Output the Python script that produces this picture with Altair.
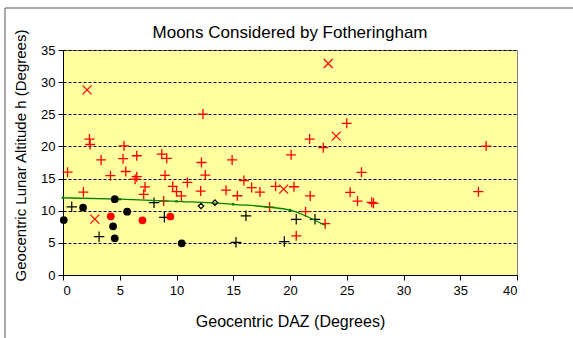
import altair as alt
import pandas as pd

# ---- data ----
red_plus_x = [0.4, 1.8, 2.33, 2.39, 3.36, 4.18, 5.29, 5.38, 5.53, 6.35, 6.5, 6.5, 7.11, 7.23,
              8.7, 8.87, 8.99, 9.14, 9.67, 10.0, 10.43, 10.96, 12.13, 12.2, 12.33, 12.54,
              14.36, 14.9, 15.36, 15.94, 16.62, 17.35, 18.2, 18.73, 20.1, 20.35, 20.55,
              21.37, 21.73, 21.78, 22.93, 23.1, 25.0, 25.3, 25.95, 26.3, 27.2, 27.36, 36.6, 37.28]
red_plus_y = [16.0, 12.9, 21.15, 20.3, 17.9, 15.45, 18.1, 20.1, 16.1, 14.9, 15.3, 18.55, 12.55, 13.7,
              18.8, 11.5, 15.5, 18.15, 13.8, 12.96, 12.3, 14.4, 13.06, 17.5, 25.04, 15.55,
              13.2, 17.9, 12.33, 14.7, 13.6, 12.9, 10.57, 13.8, 18.7, 13.73, 6.1,
              9.85, 21.15, 12.3, 19.8, 7.98, 23.6, 12.86, 11.5, 15.97, 11.3, 11.15, 12.96, 20.06]

red_x_x = [2.12, 2.8, 19.44, 23.37, 24.07]
red_x_y = [28.8, 8.7, 13.37, 32.9, 21.6]

black_plus_x = [0.77, 3.18, 8.02, 8.93, 15.24, 16.12, 19.5, 20.55, 22.2]
black_plus_y = [10.6, 5.96, 11.25, 8.97, 5.08, 9.2, 5.2, 8.66, 8.66]

black_dot_x = [0.07, 1.77, 4.56, 5.65, 4.41, 4.56, 10.46]
black_dot_y = [8.55, 10.5, 11.8, 9.85, 7.57, 5.7, 4.93]

red_dot_x = [4.21, 7.0, 9.46]
red_dot_y = [9.12, 8.5, 9.1]

diamond_x = [12.16, 13.39]
diamond_y = [10.73, 11.25]

trend_x = [0, 5, 10, 15, 20, 21.5, 23.1]
trend_y = [12.0, 11.8, 11.45, 11.0, 10.1, 9.1, 7.7]

x_ticks = [0, 5, 10, 15, 20, 25, 30, 35, 40]
y_ticks = [0, 5, 10, 15, 20, 25, 30, 35]

FONT = "Liberation Sans"
PLUS = "M-1,0L1,0M0,-1L0,1"
CROSS = "M-1,-1L1,1M-1,1L1,-1"


def frame(xs, ys):
    return pd.DataFrame({"daz": xs, "alt": ys})


x_enc = alt.X(
    "daz:Q",
    scale=alt.Scale(domain=[0, 40], nice=False, zero=False),
    axis=alt.Axis(
        values=x_ticks, title="Geocentric DAZ (Degrees)", grid=False,
        labelFontSize=13, titleFontSize=16, titlePadding=16, labelPadding=4,
        tickSize=5, tickColor="black", domainColor="black", labelColor="black",
        titleColor="black", titleFontWeight="normal", labelFont=FONT, titleFont=FONT,
    ),
)
y_enc = alt.Y(
    "alt:Q",
    scale=alt.Scale(domain=[0, 35], nice=False),
    axis=alt.Axis(
        values=y_ticks, title="Geocentric Lunar Altitude h (Degrees)", grid=True,
        gridColor="black", gridDash=[3, 2], gridWidth=1, gridOpacity=1,
        labelFontSize=13, titleFontSize=15, titlePadding=12, labelPadding=3,
        tickSize=5, tickColor="black", domainColor="black", labelColor="black",
        titleColor="black", titleFontWeight="normal", labelFont=FONT, titleFont=FONT,
        titleY=105,
    ),
)

base_layer = alt.Chart(frame(red_plus_x, red_plus_y)).mark_point(
    shape=PLUS, size=100, filled=False, stroke="#ff0000", strokeWidth=1.3, opacity=1
).encode(x=x_enc, y=y_enc)

red_x_layer = alt.Chart(frame(red_x_x, red_x_y)).mark_point(
    shape=CROSS, size=81, filled=False, stroke="#ff0000", strokeWidth=1.2, opacity=1
).encode(x=x_enc, y=y_enc)

black_plus_layer = alt.Chart(frame(black_plus_x, black_plus_y)).mark_point(
    shape=PLUS, size=110, filled=False, stroke="black", strokeWidth=1.2, opacity=1
).encode(x=x_enc, y=y_enc)

trend_line = alt.Chart(frame(trend_x, trend_y)).mark_line(
    color="#008000", strokeWidth=1.3, interpolate="monotone"
).encode(x=x_enc, y=y_enc)

trend_pts = alt.Chart(frame(trend_x[:5], trend_y[:5])).mark_point(
    shape="square", size=6, filled=True, color="#008000", opacity=1
).encode(x=x_enc, y=y_enc)

black_dot_layer = alt.Chart(frame(black_dot_x, black_dot_y)).mark_point(
    shape="circle", size=60, filled=True, color="black", opacity=1
).encode(x=x_enc, y=y_enc)

red_dot_layer = alt.Chart(frame(red_dot_x, red_dot_y)).mark_point(
    shape="circle", size=60, filled=True, color="#ff0000", opacity=1
).encode(x=x_enc, y=y_enc)

diamond_layer = alt.Chart(frame(diamond_x, diamond_y)).mark_point(
    shape="diamond", size=30, filled=False, stroke="black", strokeWidth=1.2, opacity=1
).encode(x=x_enc, y=y_enc)

outer_border = alt.Chart(pd.DataFrame({"k": [0]})).mark_rect(
    filled=False, stroke="#555555", strokeWidth=1
).encode(x=alt.value(-58), y=alt.value(-42), x2=alt.value(1000), y2=alt.value(1000))

chart = alt.layer(
    base_layer, red_x_layer, black_plus_layer, trend_line, trend_pts,
    black_dot_layer, red_dot_layer, diamond_layer, outer_border,
).properties(
    width=454,
    height=225,
    title=alt.TitleParams(
        "Moons Considered by Fotheringham", fontSize=17, font=FONT, fontWeight="normal",
        anchor="middle", frame="group", offset=-34, color="black",
    ),
    autosize=alt.AutoSizeParams(type="none"),
    padding={"left": 63, "top": 50, "right": 56, "bottom": 63},
    background="white",
).configure_view(
    fill="#FFFFA0", stroke="#808080", strokeWidth=1
)

chart.save("out.html", embed_options={"renderer": "svg", "actions": False})
